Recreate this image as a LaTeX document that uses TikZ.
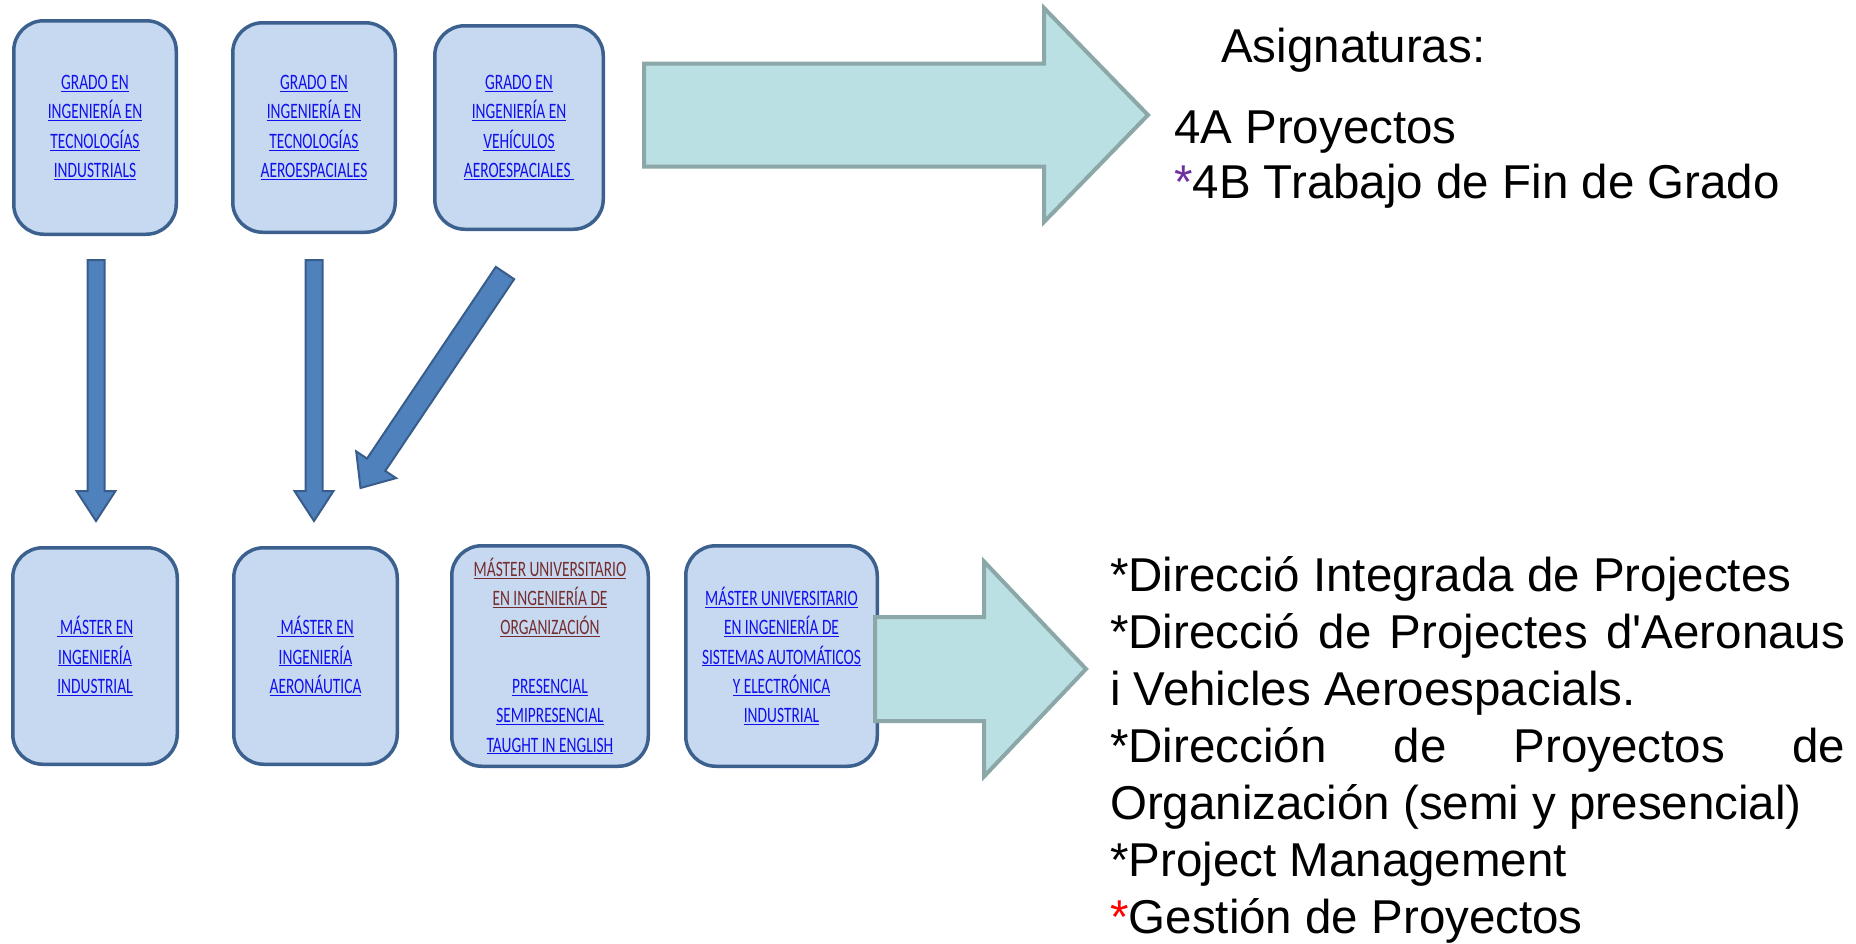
\documentclass[tikz,border=0pt]{standalone}
\usepackage{fontspec}
\setmainfont{Liberation Sans}
\newfontfamily\boxfont[FakeStretch=0.7]{Carlito}
\usetikzlibrary{positioning,calc}

\definecolor{boxfill}{RGB}{198,217,241}
\definecolor{boxline}{RGB}{60,97,143}
\definecolor{linkblue}{RGB}{16,16,238}
\definecolor{linkbrown}{RGB}{118,44,44}
\definecolor{arrowfill}{RGB}{79,129,189}
\definecolor{arrowline}{RGB}{56,93,138}
\definecolor{tealfill}{RGB}{187,224,227}
\definecolor{tealline}{RGB}{139,167,167}
\definecolor{starpurple}{RGB}{112,48,160}

\begin{document}
\begin{tikzpicture}[x=1pt, y=-1pt,
    box/.style = {draw=boxline, fill=boxfill, line width=3.5pt,
      rounded corners=30pt, align=center, inner sep=0pt, text=linkblue,
      font=\boxfont\fontsize{22}{29.3}\selectfont},
    bluearrow/.style = {draw=arrowline, fill=arrowfill, line width=2pt},
    tealarrow/.style = {draw=tealline, fill=tealfill, line width=4pt},
    blockarrow/.style n args = {3}{to path={
      let \p1 = ($(\tikztotarget)-(\tikztostart)$),
          \n1 = {atan2(\y1,\x1)}, \n2 = {veclen(\x1,\y1)} in
      {[shift={(\tikztostart)}, rotate=\n1]
      (0pt,#1) -- ({(\n2-#3)*1pt},#1) -- ({(\n2-#3)*1pt},#2) -- ({\n2*1pt},0pt)
      -- ({(\n2-#3)*1pt},-#2) -- ({(\n2-#3)*1pt},-#1) -- (0pt,-#1) -- cycle}}},
    list/.style = {anchor=base west, align=left, inner sep=0pt,
      font=\fontsize{47.5}{57}\selectfont}]
  \useasboundingbox (0,0) rectangle (1856,943);

  % grados
  \node (ga) [box, minimum width=162.5pt, minimum height=213.5pt] at (95,127.5)
    {\underline{GRADO EN}\\\underline{INGENIERÍA EN}\\\underline{TECNOLOGÍAS}\\\underline{INDUSTRIALS}};
  \node (gb) [box, minimum width=162.5pt, minimum height=209.5pt, right=53pt of ga]
    {\underline{GRADO EN}\\\underline{INGENIERÍA EN}\\\underline{TECNOLOGÍAS}\\\underline{AEROESPACIALES}};
  \node (gc) [box, minimum width=168.5pt, minimum height=203.5pt, right=36pt of gb]
    {\underline{GRADO EN}\\\underline{INGENIERÍA EN}\\\underline{VEHÍCULOS}\\\underline{AEROESPACIALES\ }};

  % masters
  \node (md) [box, minimum width=164.5pt, minimum height=216.5pt, below=310pt of ga]
    {\underline{\ MÁSTER EN}\\\underline{INGENIERÍA}\\\underline{INDUSTRIAL}};
  \node (me) [box, minimum width=163.5pt, minimum height=216.5pt, right=53pt of md]
    {\underline{\ MÁSTER EN}\\\underline{INGENIERÍA}\\\underline{AERONÁUTICA}};
  \node (mf) [box, minimum width=196.5pt, minimum height=220.5pt, right=51pt of me]
    {\textcolor{linkbrown}{\underline{MÁSTER UNIVERSITARIO}}\\
     \textcolor{linkbrown}{\underline{EN INGENIERÍA DE}}\\
     \textcolor{linkbrown}{\underline{ORGANIZACIÓN}}\\[29.3pt]
     \underline{PRESENCIAL}\\\underline{SEMIPRESENCIAL}\\\underline{TAUGHT IN ENGLISH}};
  \node (mg) [box, minimum width=191.5pt, minimum height=220.5pt, right=34pt of mf]
    {\underline{MÁSTER UNIVERSITARIO}\\\underline{EN INGENIERÍA DE}\\
     \underline{SISTEMAS AUTOMÁTICOS}\\\underline{Y ELECTRÓNICA}\\\underline{INDUSTRIAL}};

  % texts (base = last line)
  \node (asig) [list] at (1221,62) {Asignaturas:};
  \node (subj) [list, font=\fontsize{47.5}{55}\selectfont] at (1174,198)
    {4A Proyectos\\\textcolor{starpurple}{*}4B Trabajo de Fin de Grado};
  \node (courses) [list] at (1110,933)
    {*Direcció Integrada de Projectes\\
     \makebox[735pt][s]{*Direcció de Projectes d\textquotesingle Aeronaus}\\
     i Vehicles Aeroespacials.\\
     \makebox[735pt][s]{*Dirección de Proyectos de}\\
     Organización (semi y presencial)\\
     *Project Management\\
     \textcolor{red}{*}Gestión de Proyectos};

  % arrow ends
  \coordinate (t1) at ($(ga.south)+(1,24)$);
  \coordinate (h1) at ($(md.north)+(1,-25)$);
  \coordinate (t2) at ($(gb.south)+(0,26)$);
  \coordinate (h2) at ($(me.north)+(-1.5,-25)$);
  \coordinate (t3) at ($(gc.south)+(-14,42)$);
  \coordinate (h3) at ($(me.north)+(45,-58)$);
  \coordinate (t4) at ($(gc.east)+(39,-12.5)$);
  \coordinate (h4) at (1148,115);
  \coordinate (t5) at ($(mg.east)+(-4,13)$);
  \coordinate (h5) at (1086,669);

  \draw[bluearrow] (t1) to[blockarrow={8.5pt}{19.5pt}{30}] (h1);
  \draw[bluearrow] (t2) to[blockarrow={8.5pt}{19.5pt}{30}] (h2);
  \draw[bluearrow] (t3) to[blockarrow={11pt}{24pt}{28}] (h3);
  \draw[tealarrow] (t4) to[blockarrow={51.5pt}{107pt}{104}] (h4);
  \draw[tealarrow] (t5) to[blockarrow={52pt}{107.5pt}{102}] (h5);
\end{tikzpicture}
\end{document}
